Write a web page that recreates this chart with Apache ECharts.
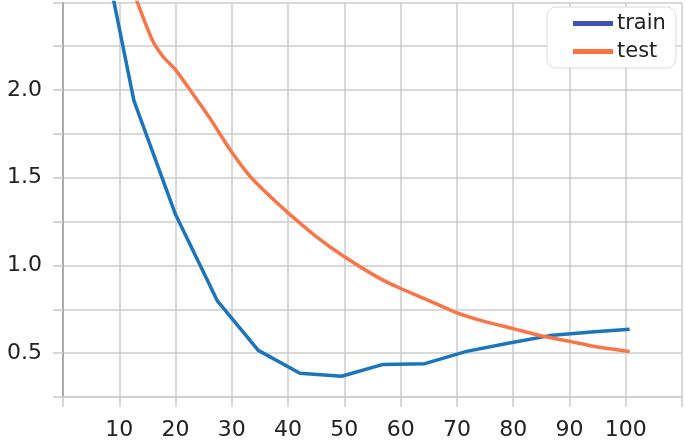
<!DOCTYPE html>
<html>
<head>
<meta charset="utf-8">
<script src="https://cdn.jsdelivr.net/npm/echarts@6/dist/echarts.min.js"></script>
<style>html,body{margin:0;padding:0;background:#fff}#c{width:685px;height:448px}</style>
</head>
<body>
<div id="c"></div>
<script>
var trainX = [5.3, 12.6, 20.0, 27.4, 34.7, 42.1, 49.5, 56.9, 64.3, 71.7, 79.1, 86.5, 93.9, 100.7];
var trainY = [3.10, 1.94, 1.29, 0.80, 0.516, 0.385, 0.368, 0.436, 0.44, 0.51, 0.556, 0.60, 0.62, 0.636];
var testX = [12.0, 13.1, 15.8, 17.8, 19.9, 22.6, 26.1, 29.7, 33.2, 36.6, 40, 45, 50, 55.8, 59.9, 65, 70, 75, 80, 85.3, 90, 95, 100.7];
var testY = [2.60, 2.51, 2.29, 2.19, 2.12, 2.00, 1.84, 1.66, 1.51, 1.40, 1.30, 1.165, 1.05, 0.935, 0.87, 0.80, 0.73, 0.68, 0.64, 0.596, 0.567, 0.535, 0.51];
var xTicks = [10, 20, 30, 40, 50, 60, 70, 80, 90, 100];
var yTicks = [0.5, 1.0, 1.5, 2.0];
var seriesNames = ['train', 'test'];

function pairs(xs, ys) { return xs.map(function (x, i) { return [x, ys[i]]; }); }

var chart = echarts.init(document.getElementById('c'));
var font = 'DejaVu Sans';
chart.setOption({
  animation: false,
  backgroundColor: '#fff',
  grid: { left: 63, right: 3, top: 2.4, bottom: 51 },
  legend: {
    orient: 'vertical',
    left: 547, top: 7,
    padding: [6, 10, 6, 26],
    backgroundColor: '#fff',
    borderColor: '#dcdcdc',
    borderWidth: 1,
    borderRadius: 9,
    itemWidth: 40,
    itemHeight: 5,
    itemGap: 7,
    icon: 'rect',
    textStyle: { fontFamily: font, fontSize: 21, color: '#222', padding: [0, 0, 0, -1] },
    data: [
      { name: seriesNames[0], itemStyle: { color: '#3f51b5' } },
      { name: seriesNames[1], itemStyle: { color: '#ff7043' } }
    ]
  },
  xAxis: {
    type: 'value', min: 0, max: 110, interval: 10,
    axisLine: { show: true, lineStyle: { color: '#cccccc', width: 1.5 } },
    axisTick: { show: true, length: 10, lineStyle: { color: '#cccccc', width: 1.5 } },
    splitLine: { show: true, lineStyle: { color: '#cccccc', width: 1.5 } },
    axisLabel: {
      fontFamily: font, fontSize: 22, color: '#222', margin: 22,
      formatter: function (v) { return xTicks.indexOf(Math.round(v)) >= 0 ? String(Math.round(v)) : ''; }
    }
  },
  yAxis: {
    type: 'value', min: 0.25, max: 2.5, interval: 0.25,
    axisLine: { show: true, lineStyle: { color: '#9a9a9a', width: 1.5 } },
    axisTick: { show: true, length: 10, lineStyle: { color: '#cccccc', width: 1.5 } },
    splitLine: { show: true, lineStyle: { color: '#cccccc', width: 1.5 } },
    axisLabel: {
      fontFamily: font, fontSize: 22, color: '#222', margin: 21,
      formatter: function (v) {
        for (var i = 0; i < yTicks.length; i++) if (Math.abs(yTicks[i] - v) < 1e-6) return yTicks[i].toFixed(1);
        return '';
      }
    }
  },
  series: [
    { name: seriesNames[0], type: 'line', data: pairs(trainX, trainY), showSymbol: false, symbol: 'none',
      clip: true, lineStyle: { color: '#1a75bc', width: 3.5 }, itemStyle: { color: '#1a75bc' } },
    { name: seriesNames[1], type: 'line', data: pairs(testX, testY), showSymbol: false, symbol: 'none',
      smooth: 0.25,
      clip: true, lineStyle: { color: '#f87548', width: 3.5 }, itemStyle: { color: '#f87548' } }
  ]
});
</script>
</body>
</html>
